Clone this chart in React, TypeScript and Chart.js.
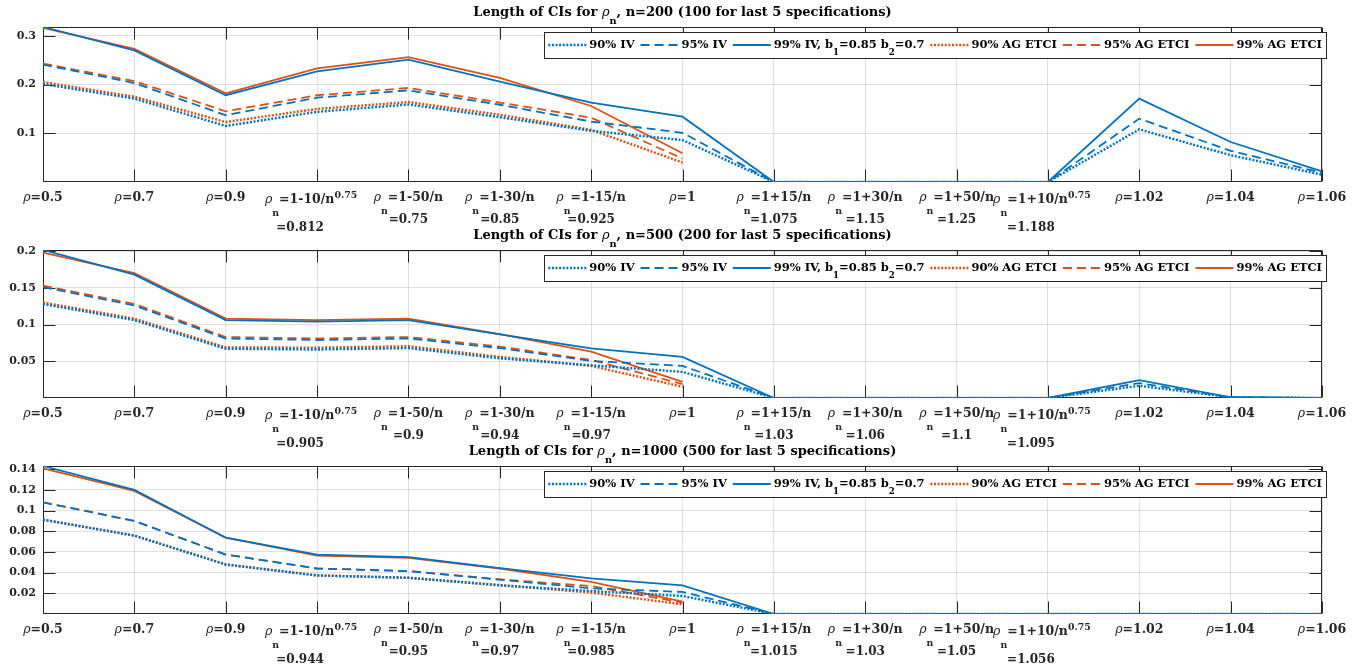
import React, { useEffect, useRef } from "react";
import { Chart, registerables } from "chart.js";
Chart.register(...registerables);

// ---------- data ----------
const xLabelMain = [
  "ρ=0.5", "ρ=0.7", "ρ=0.9", "ρ_n=1-10/n^{0.75}", "ρ_n=1-50/n", "ρ_n=1-30/n", "ρ_n=1-15/n",
  "ρ=1", "ρ_n=1+15/n", "ρ_n=1+30/n", "ρ_n=1+50/n", "ρ_n=1+10/n^{0.75}", "ρ=1.02", "ρ=1.04", "ρ=1.06",
];
const xLabelSecond200 = ["", "", "", "=0.812", "=0.75", "=0.85", "=0.925", "", "=1.075", "=1.15", "=1.25", "=1.188", "", "", ""];
const xLabelSecond500 = ["", "", "", "=0.905", "=0.9", "=0.94", "=0.97", "", "=1.03", "=1.06", "=1.1", "=1.095", "", "", ""];
const xLabelSecond1000 = ["", "", "", "=0.944", "=0.95", "=0.97", "=0.985", "", "=1.015", "=1.03", "=1.05", "=1.056", "", "", ""];

const title200 = "Length of CIs for ρ_n, n=200 (100 for last 5 specifications)";
const title500 = "Length of CIs for ρ_n, n=500 (200 for last 5 specifications)";
const title1000 = "Length of CIs for ρ_n, n=1000 (500 for last 5 specifications)";

const legendLabels = ["90% IV", "95% IV", "99% IV, b_1=0.85 b_2=0.7", "90% AG ETCI", "95% AG ETCI", "99% AG ETCI"];

const yTicks200 = [0.1, 0.2, 0.3];
const yTicks500 = [0.05, 0.1, 0.15, 0.2];
const yTicks1000 = [0.02, 0.04, 0.06, 0.08, 0.1, 0.12, 0.14];

// n = 200
const iv90_200 = [0.201, 0.171, 0.115, 0.144, 0.159, 0.133, 0.105, 0.086, 0, 0, 0, 0, 0.108, 0.055, 0.015];
const iv95_200 = [0.241, 0.203, 0.137, 0.173, 0.188, 0.1585, 0.124, 0.101, 0, 0, 0, 0, 0.130, 0.064, 0.019];
const iv99_200 = [0.318, 0.270, 0.178, 0.227, 0.251, 0.2057, 0.163, 0.134, 0, 0, 0, 0, 0.171, 0.082, 0.022];
const ag90_200 = [0.205, 0.175, 0.123, 0.150, 0.164, 0.138, 0.107, 0.040];
const ag95_200 = [0.243, 0.207, 0.145, 0.178, 0.193, 0.163, 0.132, 0.048];
const ag99_200 = [0.316, 0.273, 0.182, 0.233, 0.256, 0.2137, 0.156, 0.059];

// n = 500
const iv90_500 = [0.128, 0.106, 0.067, 0.066, 0.068, 0.054, 0.0445, 0.0356, 0, 0, 0, 0, 0.0166, 0.001, 0];
const iv95_500 = [0.151, 0.126, 0.081, 0.079, 0.081, 0.068, 0.0505, 0.0437, 0, 0, 0, 0, 0.0203, 0.001, 0];
const iv99_500 = [0.2015, 0.168, 0.106, 0.104, 0.106, 0.0865, 0.0676, 0.056, 0, 0, 0, 0, 0.0243, 0.001, 0];
const ag90_500 = [0.130, 0.108, 0.069, 0.0685, 0.0705, 0.056, 0.0437, 0.0153];
const ag95_500 = [0.153, 0.128, 0.083, 0.081, 0.083, 0.070, 0.0518, 0.019];
const ag99_500 = [0.198, 0.170, 0.108, 0.106, 0.108, 0.087, 0.063, 0.022];

// n = 1000
const iv90_1000 = [0.0912, 0.0758, 0.0479, 0.0373, 0.035, 0.0277, 0.0222, 0.0174, 0, 0, 0, 0, 0, 0, 0];
const iv95_1000 = [0.108, 0.090, 0.0575, 0.044, 0.0415, 0.0332, 0.0248, 0.0213, 0, 0, 0, 0, 0, 0, 0];
const iv99_1000 = [0.1431, 0.120, 0.0738, 0.0575, 0.0549, 0.0443, 0.0344, 0.0277, 0, 0, 0, 0, 0, 0, 0];
const ag90_1000 = [0.0912, 0.0758, 0.0479, 0.0373, 0.035, 0.028, 0.0207, 0.0094];
const ag95_1000 = [0.108, 0.090, 0.0575, 0.044, 0.0415, 0.0335, 0.027, 0.011];
const ag99_1000 = [0.1409, 0.119, 0.0738, 0.0565, 0.0543, 0.044, 0.031, 0.012];

// ---------- styles ----------
const BLUE = "#0072BD";
const ORANGE = "#D95319";
const AXIS = "#262626";
const GRID = "rgba(38,38,38,0.14)";
const FONT = '"DejaVu Serif", serif';
const DOT = [2, 1.6];
const DASH = [9, 5];

type Seg = { t: string; m: number; it: boolean };
function parseRich(s: string): Seg[] {
  const segs: Seg[] = [];
  const push = (t: string, m: number, it = false) => {
    const last = segs[segs.length - 1];
    if (last && last.m === m && last.it === it) last.t += t;
    else segs.push({ t, m, it });
  };
  let i = 0;
  while (i < s.length) {
    const c = s[i];
    if (c === "_") { push(s[i + 1], 1); i += 2; continue; }
    if (c === "^" && s[i + 1] === "{") {
      const j = s.indexOf("}", i);
      push(s.slice(i + 2, j), 2);
      i = j + 1;
      continue;
    }
    if (c === "ρ") { push(c, 0, true); i++; continue; }
    push(c, 0);
    i++;
  }
  return segs;
}

function segFont(seg: Seg, size: number) {
  return `${seg.it ? "italic " : "bold "}${seg.m ? size * 0.75 : size}px ${FONT}`;
}

function richWidth(ctx: CanvasRenderingContext2D, s: string, size: number) {
  let w = 0;
  for (const seg of parseRich(s)) {
    ctx.font = segFont(seg, size);
    w += ctx.measureText(seg.t).width;
  }
  return w;
}

function drawRich(
  ctx: CanvasRenderingContext2D, s: string, x: number, y: number, align: string,
  size: number, subDy: number, supDy: number, color: string
) {
  const segs = parseRich(s);
  const w = richWidth(ctx, s, size);
  let cx = align === "center" ? x - w / 2 : align === "right" ? x - w : x;
  ctx.textBaseline = "middle";
  ctx.textAlign = "left";
  ctx.fillStyle = color;
  for (const seg of segs) {
    ctx.font = segFont(seg, size);
    const dy = seg.m === 1 ? subDy : seg.m === 2 ? -supDy : 0;
    ctx.fillText(seg.t, cx, y + dy);
    cx += ctx.measureText(seg.t).width;
  }
  return w;
}

type Panel = {
  title: string; second: string[]; ymax: number; yticks: number[];
  iv90: number[]; iv95: number[]; iv99: number[]; ag90: number[]; ag95: number[]; ag99: number[];
  top: number; h: number; plotTop: number; plotBottom: number;
};

const panels: Panel[] = [
  { title: title200, second: xLabelSecond200, ymax: 0.318, yticks: yTicks200,
    iv90: iv90_200, iv95: iv95_200, iv99: iv99_200, ag90: ag90_200, ag95: ag95_200, ag99: ag99_200,
    top: 0, h: 240, plotTop: 27, plotBottom: 182 },
  { title: title500, second: xLabelSecond500, ymax: 0.2015, yticks: yTicks500,
    iv90: iv90_500, iv95: iv95_500, iv99: iv99_500, ag90: ag90_500, ag95: ag95_500, ag99: ag99_500,
    top: 221, h: 240, plotTop: 29, plotBottom: 177 },
  { title: title1000, second: xLabelSecond1000, ymax: 0.1431, yticks: yTicks1000,
    iv90: iv90_1000, iv95: iv95_1000, iv99: iv99_1000, ag90: ag90_1000, ag95: ag95_1000, ag99: ag99_1000,
    top: 442, h: 222, plotTop: 24, plotBottom: 172 },
];

const legendStyles = [
  { color: BLUE, dash: DOT, w: 2.4 },
  { color: BLUE, dash: DASH, w: 1.8 },
  { color: BLUE, dash: [], w: 1.8 },
  { color: ORANGE, dash: DOT, w: 2.4 },
  { color: ORANGE, dash: DASH, w: 1.8 },
  { color: ORANGE, dash: [], w: 1.8 },
];

function ds(label: string, data: number[], st: { color: string; dash: number[]; w: number }) {
  return {
    label, data, borderColor: st.color, backgroundColor: st.color, borderDash: st.dash,
    borderWidth: st.w, pointRadius: 0, fill: false, tension: 0, spanGaps: false,
    borderCapStyle: "butt", borderJoinStyle: "miter",
  };
}

function makePlugin(p: Panel) {
  return {
    id: "matlabFrame",
    beforeDatasetsDraw(chart: any) {
      const ctx = chart.ctx as CanvasRenderingContext2D;
      const { left, right, top, bottom } = chart.chartArea;
      const xs = chart.scales.x;
      const ys = chart.scales.y;
      ctx.save();
      ctx.strokeStyle = AXIS;
      ctx.lineWidth = 1;
      ctx.beginPath();
      const L = Math.round(left) + 0.5, R = Math.round(right) - 0.5;
      const T = Math.round(top) + 0.5, B = Math.round(bottom) - 0.5;
      ctx.rect(L, T, R - L, B - T);
      for (let i = 0; i < xLabelMain.length; i++) {
        const px = Math.round(xs.getPixelForValue(i)) + 0.5;
        ctx.moveTo(px, B); ctx.lineTo(px, B - 12);
        ctx.moveTo(px, T); ctx.lineTo(px, T + 12);
      }
      for (const v of p.yticks) {
        const py = Math.round(ys.getPixelForValue(v)) + 0.5;
        ctx.moveTo(L, py); ctx.lineTo(L + 12, py);
        ctx.moveTo(R, py); ctx.lineTo(R - 12, py);
      }
      ctx.stroke();
      ctx.restore();
    },
    afterDraw(chart: any) {
      const ctx = chart.ctx as CanvasRenderingContext2D;
      const { left, right, top, bottom } = chart.chartArea;
      const xs = chart.scales.x;
      ctx.save();
      // title
      drawRich(ctx, p.title, (left + right) / 2, top - 14, "center", 13, 8, 4, "#000");
      // x tick labels
      for (let i = 0; i < xLabelMain.length; i++) {
        const px = xs.getPixelForValue(i);
        const main = xLabelMain[i];
        const hasSup = main.includes("^");
        const sec = p.second[i];
        drawRich(ctx, main, px + (hasSup ? -6 : 0), bottom + (hasSup ? 18 : 16), "center", 12.5, 14, 4, AXIS);
        if (sec) drawRich(ctx, sec, px + (hasSup ? -17 : 0), bottom + (hasSup ? 46 : 38), "center", 12, 14, 4, AXIS);
      }
      // legend
      const size = 11.5;
      const sample = 38;
      const widths = legendLabels.map((l) => richWidth(ctx, l, size));
      let total = 4;
      widths.forEach((w, k) => { total += sample + 3 + w + (k < widths.length - 1 ? 6 : 4); });
      const boxR = right + 4;
      const boxL = boxR - total;
      const boxT = top + 5;
      const boxH = 26;
      ctx.fillStyle = "#fff";
      ctx.fillRect(boxL, boxT, total, boxH);
      ctx.strokeStyle = AXIS;
      ctx.lineWidth = 1;
      ctx.setLineDash([]);
      ctx.strokeRect(Math.round(boxL) + 0.5, Math.round(boxT) + 0.5, Math.round(total), boxH);
      let x = boxL + 4;
      const cy = boxT + 13;
      legendLabels.forEach((l, k) => {
        const st = legendStyles[k];
        ctx.beginPath();
        ctx.strokeStyle = st.color;
        ctx.lineWidth = st.w;
        ctx.setLineDash(st.dash);
        ctx.lineCap = "butt";
        ctx.moveTo(x, cy); ctx.lineTo(x + sample, cy);
        ctx.stroke();
        ctx.setLineDash([]);
        drawRich(ctx, l, x + sample + 3, cy, "left", size, 8, 4, "#000");
        x += sample + 3 + widths[k] + 6;
      });
      ctx.restore();
    },
  };
}

function makeConfig(p: Panel): any {
  return {
    type: "line",
    data: {
      labels: xLabelMain,
      datasets: [
        ds(legendLabels[0], p.iv90, legendStyles[0]),
        ds(legendLabels[1], p.iv95, legendStyles[1]),
        ds(legendLabels[2], p.iv99, legendStyles[2]),
        ds(legendLabels[3], p.ag90, legendStyles[3]),
        ds(legendLabels[4], p.ag95, legendStyles[4]),
        ds(legendLabels[5], p.ag99, legendStyles[5]),
      ],
    },
    options: {
      animation: false,
      responsive: false,
      maintainAspectRatio: false,
      layout: { padding: { top: p.plotTop, right: 40, left: 0, bottom: 0 } },
      plugins: { legend: { display: false }, title: { display: false }, tooltip: { enabled: false } },
      elements: { point: { radius: 0 }, line: { tension: 0 } },
      scales: {
        x: {
          type: "category",
          offset: false,
          grid: { color: GRID, drawTicks: false, offset: false },
          border: { display: false },
          ticks: { display: false },
          afterFit: (s: any) => { s.height = p.h - p.plotBottom; },
        },
        y: {
          min: 0,
          max: p.ymax,
          grid: { color: GRID, drawTicks: false },
          border: { display: false },
          ticks: {
            color: AXIS,
            padding: 7,
            font: { family: FONT, weight: "bold", size: 11 },
            callback: (v: number) => String(Number(Number(v).toFixed(4))),
          },
          afterBuildTicks: (s: any) => { s.ticks = p.yticks.map((v) => ({ value: v })); },
          afterFit: (s: any) => { s.width = 43; },
        },
      },
    },
    plugins: [makePlugin(p)],
  };
}

export default function App() {
  const r0 = useRef<HTMLCanvasElement>(null);
  const r1 = useRef<HTMLCanvasElement>(null);
  const r2 = useRef<HTMLCanvasElement>(null);
  const refs = [r0, r1, r2];
  useEffect(() => {
    const charts = [r0, r1, r2].map((r, i) => new Chart(r.current as HTMLCanvasElement, makeConfig(panels[i])));
    return () => charts.forEach((c) => c.destroy());
  }, []);
  return (
    <div style={{ position: "absolute", left: 0, top: 0, width: 1362, height: 664, background: "#fff", overflow: "hidden" }}>
      {panels.map((p, i) => (
        <canvas
          key={i}
          ref={refs[i]}
          width={1362}
          height={p.h}
          style={{ position: "absolute", left: 0, top: p.top, width: 1362, height: p.h, display: "block" }}
        />
      ))}
    </div>
  );
}
